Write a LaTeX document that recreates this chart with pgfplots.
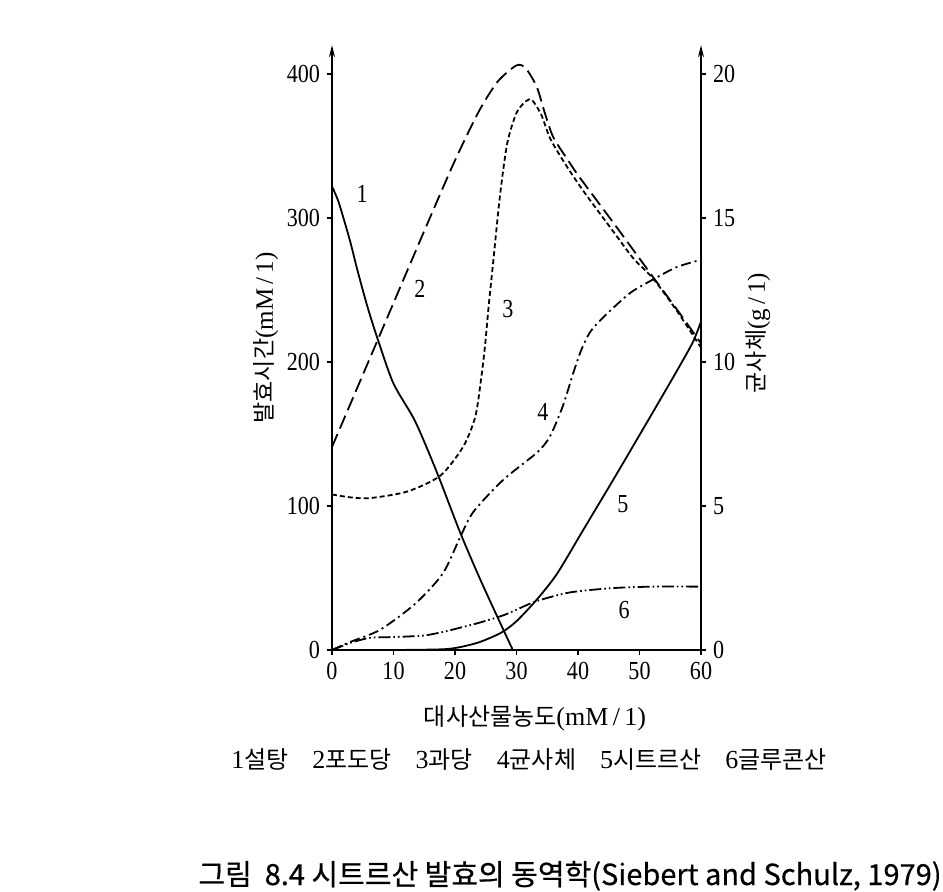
\documentclass[border=0pt]{standalone}
\usepackage{fontspec}
\setmainfont{Liberation Serif}
\newfontfamily\kr{Noto Sans CJK KR}
\newfontfamily\krb[FakeBold=0.5]{Noto Sans CJK KR}
\newfontfamily\numfont[FakeStretch=0.85]{Liberation Serif}
\usepackage{pgfplots}
\pgfplotsset{compat=1.18}
\usetikzlibrary{arrows.meta}

\pgfplotsset{
  kin/.style={
    at={(166pt,120.5pt)}, anchor=south west,
    scale only axis, width=184.5pt, height=302.4pt,
    xmin=0, xmax=60, ymin=0,
    tick align=outside, major tick length=2.5pt,
    tick style={black, line width=0.8pt},
    ticklabel style={font=\numfont\fontsize{13}{13}\selectfont},
    /pgf/number format/assume math mode=true,
    clip=false,
  },
  cv/.style={black, line width=0.9pt, smooth, tension=0.45},
}

\newcommand{\kt}[1]{{\kr\fontsize{12}{13}\selectfont #1}}
\newcommand{\nm}[1]{{\rmfamily\fontsize{13}{13}\selectfont #1}}

\begin{document}
\begin{tikzpicture}
\useasboundingbox (0,0) rectangle (471.5pt,445.5pt);

% right axis: mycelium (g/l)
\begin{axis}[kin,
    ymax=21,
    axis x line=none,
    axis y line*=right,
    y axis line style={line width=0.9pt, -{Stealth[length=6pt,width=3pt]}},
    ytick={0,5,10,15,20},
  ]
\end{axis}

\begin{axis}[kin,
    ymax=420,
    axis x line*=bottom,
    axis y line*=left,
    x axis line style={line width=0.9pt, -},
    y axis line style={line width=0.9pt, -{Stealth[length=6pt,width=3pt]}},
    xtick={0,10,...,60},
    ytick={0,100,200,300,400},
  ]
  % 1 sucrose
  \addplot[cv] coordinates {
    (0,322) (1,312) (2,298) (3,283) (4,266) (5,250) (6,235) (7.5,215)
    (10,185) (13.5,159) (17,124) (20.8,82) (24,50) (27,22) (29.4,0)};
  % 2 glucose
  \addplot[cv, dash pattern=on 7pt off 3pt] coordinates {
    (0,141) (5,191) (10,241) (15,291) (20,340) (24,375) (27,395) (30,406)
    (31.5,404) (33.3,391) (34.6,373) (36,356) (38.7,338) (40.3,328)
    (45.7,297) (52.2,259) (56,237) (60,213)};
  % 3 fructose
  \addplot[cv, dash pattern=on 2.5pt off 1.5pt] coordinates {
    (0,108) (3,106) (6.2,105.5) (12.2,110) (17.6,121) (21.3,141) (23.3,162)
    (24.3,190) (24.9,212) (25.5,240) (26.2,269) (27.3,315) (28.5,352)
    (30,373) (31.5,381) (32.5,382) (34,372) (35.5,355) (38,337) (41,318)
    (45.5,292) (49,272) (52.2,258) (56,236) (60,210)};
  % 4 mycelium
  \addplot[cv, dash pattern=on 5pt off 2pt on 1pt off 2pt] coordinates {
    (0,0) (2.9,5.5) (7.8,14) (13.5,32) (18,53) (20.8,78) (23,96)
    (27.8,118) (33.3,137) (35.4,148) (37.5,169) (39.2,192) (40.5,208)
    (42,221) (44.1,231) (48.5,248) (52.5,258) (56.1,266) (60,271)};
  % 5 citric acid
  \addplot[cv] coordinates {
    (0,0) (10,0) (18,0.5) (20.8,2) (24,5.5) (27.5,12) (30,20) (33.3,35)
    (36.6,53) (40.8,83) (45.7,118) (51.2,158) (56.1,194) (58.7,214) (60,228)};
  % 6 gluconic acid
  \addplot[cv, dash pattern=on 6pt off 1.5pt on 0.8pt off 1.5pt on 0.8pt off 1.5pt] coordinates {
    (0,0) (1.5,2.5) (3,5) (6.2,8.5) (10,9) (14.8,10) (18,12.5) (21.3,16)
    (24,19) (27.8,24) (30,28) (33.3,34) (38.7,40) (45.7,43) (52.2,44) (60,44)};

  \begin{scope}[font=\numfont\fontsize{13}{13}\selectfont]
    \node at (axis cs:4.9,317) {1};
    \node at (axis cs:14.3,251) {2};
    \node at (axis cs:28.6,237) {3};
    \node at (axis cs:34.3,165) {4};
    \node at (axis cs:47.3,101) {5};
    \node at (axis cs:47.5,28) {6};
  \end{scope}
\end{axis}

\node[rotate=90, font=\fontsize{12.5}{13}\selectfont] at (133pt,276.5pt)
  {{\kr\fontsize{11.5}{12}\selectfont 발효시간}(mM\,/\,1)};
\node[rotate=90, font=\fontsize{12.5}{13}\selectfont] at (379pt,279pt)
  {{\kr\fontsize{11.5}{12}\selectfont 균사체}(g\,/\,1)};
\node[font=\fontsize{13}{13}\selectfont] at (267.5pt,86.5pt)
  {\kt{대사산물농도}(mM\,/\,1)};
\node at (264.5pt,65.5pt)
  {\nm{1}\kt{설탕}\hspace{1.2em}\nm{2}\kt{포도당}\hspace{1.2em}\nm{3}\kt{과당}\hspace{1.2em}\nm{4}\kt{균사체}\hspace{1.2em}\nm{5}\kt{시트르산}\hspace{1.2em}\nm{6}\kt{글루콘산}};
\node[anchor=base, font=\krb\fontsize{14.5}{15}\selectfont] at (285pt,3pt)
  {그림\ \ 8.4 시트르산\ 발효의\ 동역학(Siebert\ and\ Schulz,\ 1979)};
\end{tikzpicture}
\end{document}
